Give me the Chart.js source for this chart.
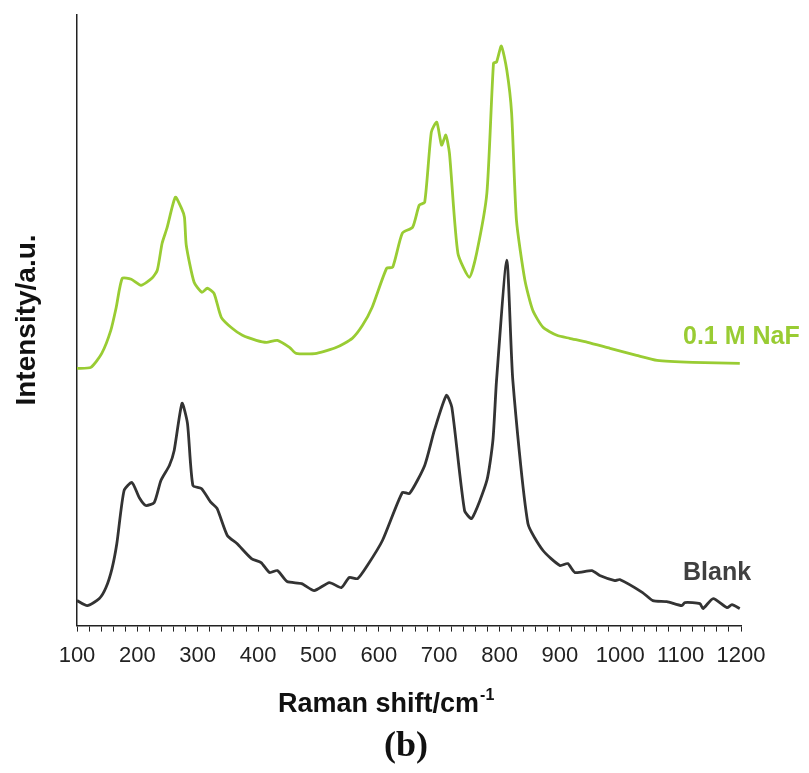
<!DOCTYPE html>
<html>
<head>
<meta charset="utf-8">
<script src="https://cdn.jsdelivr.net/npm/chart.js@4.4.1/dist/chart.umd.min.js"></script>
<style>
  html, body { margin: 0; padding: 0; background: #fff; }
  #wrap { width: 809px; height: 773px; }
</style>
</head>
<body>
<div id="wrap"><canvas id="myChart" width="809" height="773"></canvas></div>
<script>
// Raman shift (cm-1) and intensity (a.u.)
const naf_x = [100, 123, 141, 156, 165, 175, 190, 206, 224, 233, 241, 249, 263, 273, 278, 281, 294, 307, 316, 327, 339, 357, 374, 397, 414, 432, 452, 463, 497, 530, 556, 573, 589, 613, 623, 639, 656, 667, 676, 687, 696, 704, 711, 717, 731, 750, 762, 779, 790, 795, 803, 812, 820, 828, 842, 855, 872, 895, 916, 946, 983, 1027, 1061, 1120, 1198];
const naf_y = [257, 258, 272, 295, 318, 347, 346, 340, 347, 355, 382, 397, 428, 417, 408, 380, 343, 333, 337, 332, 308, 297, 290, 285, 283, 285, 278, 272, 272, 278, 287, 300, 318, 357, 358, 392, 398, 420, 423, 493, 503, 480, 490, 472, 372, 348, 372, 432, 562, 563, 579, 555, 512, 405, 345, 315, 298, 290, 287, 283, 277, 270, 265, 263, 262];

const blank_x = [100, 117, 137, 148, 158, 166, 178, 191, 203, 214, 228, 239, 253, 261, 274, 283, 292, 306, 322, 332, 349, 365, 389, 405, 419, 432, 448, 472, 493, 518, 538, 551, 565, 581, 606, 639, 651, 676, 692, 712, 721, 742, 754, 779, 789, 795, 812, 822, 847, 872, 900, 913, 925, 953, 966, 991, 999, 1037, 1054, 1077, 1102, 1107, 1132, 1137, 1154, 1177, 1185, 1198];
const blank_y = [25, 20, 27, 38, 57, 82, 135, 143, 128, 120, 123, 145, 160, 175, 222, 202, 140, 137, 123, 117, 90, 82, 67, 63, 53, 55, 44, 42, 35, 43, 38, 48, 47, 60, 85, 133, 132, 160, 195, 230, 218, 115, 107, 145, 185, 245, 365, 245, 102, 75, 60, 62, 53, 55, 50, 45, 46, 33, 25, 24, 20, 23, 22, 17, 27, 18, 21, 17];

const xTicksMajor = [100, 200, 300, 400, 500, 600, 700, 800, 900, 1000, 1100, 1200];

const green = '#99cc33';
const dark = '#333333';
const sans = '"Liberation Sans", Arial, sans-serif';

function pts(xs, ys) {
  return xs.map((x, i) => ({ x: x, y: ys[i] }));
}

const textPlugin = {
  id: 'texts',
  afterDraw(chart) {
    const ctx = chart.ctx;
    ctx.save();
    // series labels
    ctx.font = 'bold 25px ' + sans;
    ctx.textBaseline = 'middle';
    ctx.textAlign = 'left';
    ctx.fillStyle = green;
    ctx.fillText('0.1 M NaF', 683, 337);
    ctx.fillStyle = '#404040';
    ctx.fillText('Blank', 683, 573);

    // x title with superscript
    ctx.fillStyle = '#111';
    ctx.textBaseline = 'alphabetic';
    ctx.font = 'bold 27px ' + sans;
    ctx.fillText('Raman shift/cm', 278, 712);
    const w = ctx.measureText('Raman shift/cm').width;
    ctx.font = 'bold 16px ' + sans;
    ctx.fillText('-1', 278 + w + 1, 700);

    // panel letter
    ctx.textAlign = 'center';
    ctx.textBaseline = 'middle';
    ctx.font = 'bold 36px "Liberation Serif", "Times New Roman", serif';
    ctx.fillText('(b)', 406, 747);

    // y title
    ctx.translate(27, 320);
    ctx.rotate(-Math.PI / 2);
    ctx.font = 'bold 28px ' + sans;
    ctx.fillText('Intensity/a.u.', 0, 0);
    ctx.restore();
  }
};

new Chart(document.getElementById('myChart').getContext('2d'), {
  type: 'line',
  data: {
    datasets: [
      {
        label: '0.1 M NaF',
        data: pts(naf_x, naf_y),
        borderColor: green,
        borderWidth: 2.8,
        pointRadius: 0,
        tension: 0.2,
        fill: false
      },
      {
        label: 'Blank',
        data: pts(blank_x, blank_y),
        borderColor: dark,
        borderWidth: 2.8,
        pointRadius: 0,
        tension: 0.2,
        fill: false
      }
    ]
  },
  options: {
    responsive: false,
    animation: false,
    layout: { padding: { left: 77, right: 68, top: 15, bottom: 93 } },
    plugins: {
      legend: { display: false },
      tooltip: { enabled: false }
    },
    scales: {
      x: {
        type: 'linear',
        min: 100,
        max: 1200,
        afterBuildTicks(axis) {
          const t = [];
          for (let v = 100; v <= 1200; v += 20) t.push({ value: v });
          axis.ticks = t;
        },
        ticks: {
          autoSkip: false,
          maxRotation: 0,
          padding: 11,
          color: '#222',
          font: { family: sans, size: 22 },
          callback: (v) => xTicksMajor.includes(v) ? String(v) : ''
        },
        grid: {
          drawOnChartArea: false,
          drawTicks: true,
          tickLength: 6,
          tickColor: '#222',
          tickWidth: 1
        },
        border: { display: true, color: '#222', width: 1.5 }
      },
      y: {
        type: 'linear',
        min: 0,
        max: 610,
        ticks: { display: false },
        grid: { drawOnChartArea: false, drawTicks: false },
        border: { display: true, color: '#222', width: 1.5 }
      }
    }
  },
  plugins: [textPlugin]
});
</script>
</body>
</html>
